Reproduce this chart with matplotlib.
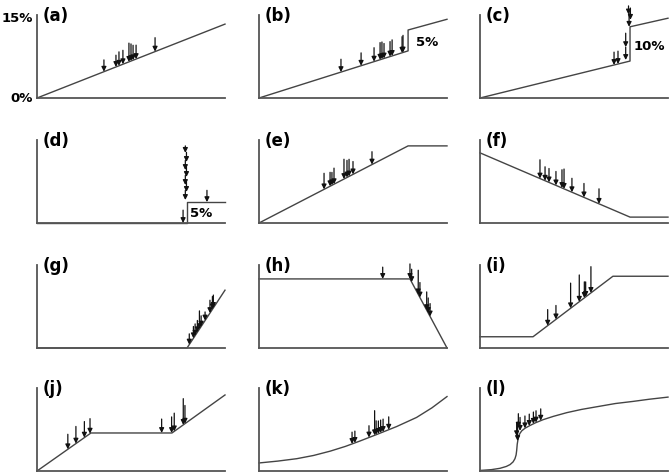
import numpy as np
import matplotlib.pyplot as plt

panels = ['a', 'b', 'c', 'd', 'e', 'f', 'g', 'h', 'i', 'j', 'k', 'l']

# outline of each panel: x in % of the axis width, y in % (0-15)
line_x = {
    'a': [0, 100],
    'b': [0, 79.3, 79.3, 100],
    'c': [0, 79.8, 79.8, 100],
    'd': [0, 79.8, 79.8, 100],
    'e': [0, 79.3, 100],
    'f': [0, 79.8, 100],
    'g': [0, 79.8, 100],
    'h': [0, 80.3, 100],
    'i': [0, 28.2, 70.7, 100],
    'j': [0, 28.7, 71.8, 100],
    'k': [0, 10.0, 20.1, 29.0, 37.8, 46.0, 53.7, 62.5, 73.2, 83.8, 92.0, 100],
    'l': [0, 6.0, 10.6, 14.0, 16.0, 17.6, 18.6, 19.2, 19.5, 19.8, 20.4, 21.2,
          22.2, 24.0, 26.6, 29.5, 33.7, 39.0, 46.2, 54.0, 63.8, 72.0, 81.5, 90.0, 100],
}
line_y = {
    'a': [0, 13.8],
    'b': [0, 8.8, 12.7, 14.7],
    'c': [0, 6.9, 13.3, 14.9],
    'd': [0, 0, 3.9, 3.9],
    'e': [0, 14.4, 14.4],
    'f': [13.1, 1.1, 1.1],
    'g': [0, 0, 10.8],
    'h': [12.9, 12.9, 0],
    'i': [2.1, 2.1, 13.4, 13.4],
    'j': [0, 7.1, 7.1, 14.2],
    'k': [1.5, 1.85, 2.3, 2.9, 3.7, 4.6, 5.6, 6.8, 8.3, 10.0, 11.8, 13.9],
    'l': [0.1, 0.25, 0.5, 0.85, 1.2, 1.7, 2.3, 3.0, 3.8, 5.0, 6.3, 7.0,
          7.5, 8.0, 8.5, 9.0, 9.6, 10.2, 10.9, 11.5, 12.1, 12.6, 13.0, 13.4, 13.8],
}

# observations (arrows): position, length and, where not on the line, tip height
arrow_x = {
    'a': [35.6, 42.0, 43.6, 45.7, 48.9, 50.0, 51.1, 52.7, 62.8],
    'b': [43.6, 54.3, 61.2, 64.4, 65.4, 66.5, 69.7, 70.8, 76.1, 76.6],
    'c': [71.3, 73.4, 77.5, 77.5, 79.3, 80.0, 79.0],
    'd': [78.9, 79.5, 78.9, 79.5, 78.9, 79.5, 78.9, 77.7, 90.4],
    'e': [34.6, 37.8, 38.8, 39.9, 45.2, 46.8, 47.9, 50.0, 60.1],
    'f': [31.9, 34.6, 36.7, 40.4, 43.6, 44.7, 48.9, 55.3, 63.3],
    'g': [81.0, 83.2, 84.1, 85.3, 86.4, 87.3, 89.4, 92.0, 93.3, 93.8],
    'h': [65.8, 80.3, 81.2, 84.7, 85.6, 89.2, 90.0, 91.0],
    'i': [36.0, 40.4, 48.2, 52.8, 55.5, 56.2, 59.0],
    'j': [16.4, 20.7, 25.2, 28.2, 66.3, 71.6, 73.0, 77.8, 78.7],
    'k': [49.5, 51.0, 58.5, 61.5, 62.3, 63.5, 64.7, 66.0, 69.0],
    'l': [19.5, 20.0, 20.4, 21.3, 23.9, 26.2, 28.4, 29.8, 32.3],
}
arrow_len = {
    'a': [2.2, 2.2, 2.6, 2.6, 3.5, 3.2, 2.8, 2.6, 2.6],
    'b': [2.4, 2.4, 2.6, 3.2, 3.2, 2.8, 2.8, 3.0, 3.0, 3.2],
    'c': [2.4, 2.4, 2.4, 2.6, 2.6, 2.2, 1.6],
    'd': [1.3, 1.8, 1.8, 1.8, 1.8, 1.8, 1.8, 2.4, 2.2],
    'e': [3.0, 2.6, 2.4, 3.0, 3.7, 3.2, 3.2, 2.4, 2.4],
    'f': [3.5, 2.6, 2.6, 2.6, 3.4, 3.7, 2.6, 2.6, 2.8],
    'g': [2.0, 2.2, 2.2, 2.2, 3.4, 2.0, 1.6, 2.4, 2.4, 2.4],
    'h': [2.2, 2.8, 2.4, 4.5, 2.8, 3.4, 2.8, 2.4],
    'i': [3.0, 2.6, 4.7, 5.0, 3.0, 2.8, 4.9],
    'j': [2.8, 3.2, 3.0, 2.8, 2.6, 3.0, 3.4, 4.9, 3.4],
    'k': [2.2, 2.2, 2.2, 4.6, 2.6, 2.4, 2.4, 2.4, 2.4],
    'l': [2.5, 3.5, 2.6, 2.5, 2.3, 2.2, 2.2, 2.2, 2.2],
}
arrow_tip = {
    'c': [np.nan, np.nan, 7.1, 9.5, 13.3, 14.6, 15.6],
    'd': [13.1, 11.4, 9.9, 8.6, 7.1, 5.8, 4.3, np.nan, np.nan],
    'l': [6.5, 5.6, 8.1, 7.5, np.nan, np.nan, np.nan, np.nan, np.nan],
}
# size of the jump, written next to it
jump_text = {'b': ('5%', 89.4, 10.3), 'c': ('10%', 90.2, 9.6), 'd': ('5%', 87.5, 1.7)}

# axes layout in pixels (figure is 672 x 476)
col_left = [37, 259, 480]
row_bottom = [98, 223, 348, 471]
ax_w, ax_h = 188, 83

fig = plt.figure(figsize=(6.72, 4.76), dpi=100)

for i, p in enumerate(panels):
    r, c = divmod(i, 3)
    ax = fig.add_axes([col_left[c] / 672, (476 - row_bottom[r]) / 476,
                       ax_w / 672, ax_h / 476])
    ax.set_xlim(0, 100)
    ax.set_ylim(0, 15.5)
    for s in ['top', 'right']:
        ax.spines[s].set_visible(False)
    for s in ['left', 'bottom']:
        ax.spines[s].set_color('#555555')
        ax.spines[s].set_linewidth(1.3)
    ax.set_xticks([])
    ax.set_yticks([])
    ax.patch.set_visible(False)

    ax.plot(line_x[p], line_y[p], color='#444444', lw=1.0, clip_on=False)

    xs = np.array(arrow_x[p])
    tips = np.interp(xs, line_x[p], line_y[p])
    if p in arrow_tip:
        given = np.array(arrow_tip[p])
        tips = np.where(np.isnan(given), tips, given)
    for x, t, L in zip(xs, tips, arrow_len[p]):
        ax.annotate('', xy=(x, t), xytext=(x, t + L),
                    arrowprops=dict(arrowstyle='-|>', color='#111111', lw=0.9,
                                    mutation_scale=7, shrinkA=0, shrinkB=0),
                    annotation_clip=False)

    ax.text(3.2, 15.3, '(%s)' % p, fontsize=12, fontweight='bold',
            ha='left', va='center')
    if p in jump_text:
        s, tx, ty = jump_text[p]
        ax.text(tx, ty, s, fontsize=9.5, fontweight='bold', ha='center', va='center')
    if p == 'a':
        ax.text(-2.2, 14.9, '15%', fontsize=9.5, fontweight='bold', ha='right',
                va='center', clip_on=False)
        ax.text(-2.2, 0, '0%', fontsize=9.5, fontweight='bold', ha='right',
                va='center', clip_on=False)

fig.savefig('out.png', dpi=100)
